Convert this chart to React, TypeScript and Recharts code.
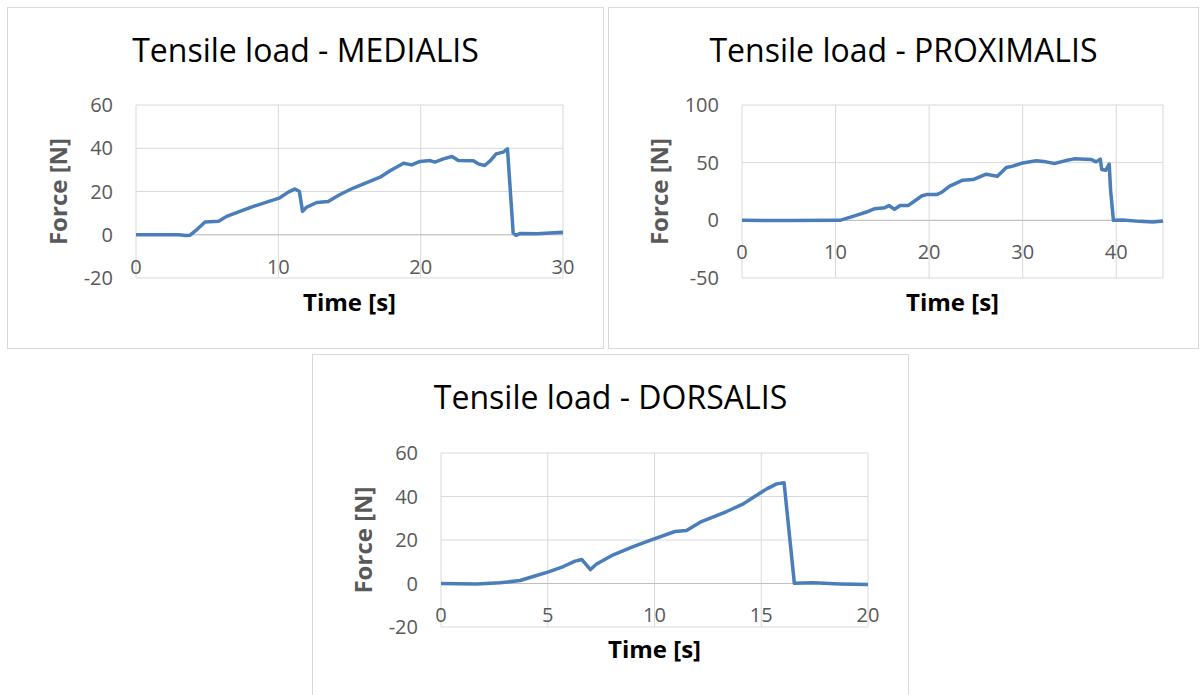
import { CartesianGrid, Line, LineChart, ReferenceLine, XAxis, YAxis } from "recharts";

// values
const medialisTime = [0, 1, 2, 3, 3.5, 3.8, 4.3, 4.85, 5.8, 6.37, 7.3, 8.25, 9.18, 10.05, 10.7, 11.17, 11.48, 11.7, 12.0, 12.7, 13.5, 14.3, 15.27, 17.15, 17.85, 18.8, 19.37, 19.96, 20.66, 21.0, 21.6, 22.2, 22.65, 23.7, 24.05, 24.5, 24.9, 25.3, 25.8, 26.1, 26.5, 26.7, 27.0, 28.2, 30];
const medialisForce = [0, 0, 0, 0, -0.3, -0.2, 2.5, 5.9, 6.2, 8.5, 10.8, 13.1, 15.1, 16.9, 19.7, 21.2, 20, 10.8, 12.8, 14.9, 15.4, 18.5, 21.6, 26.6, 29.6, 33.1, 32.3, 33.9, 34.3, 33.6, 35.1, 36.2, 34.3, 34.2, 32.8, 32.0, 34.3, 37.4, 38.2, 39.7, 0.8, -0.3, 0.6, 0.5, 1.1];

const proximalisTime = [0, 5, 10.46, 12.2, 13.3, 14.2, 15.26, 15.7, 16.3, 16.9, 17.75, 18.3, 19.2, 19.7, 20.8, 21.4, 22.2, 23.6, 24.7, 26.1, 27.3, 28.25, 28.95, 30.0, 31.45, 32.5, 33.4, 34.5, 35.5, 37.3, 37.85, 38.3, 38.45, 38.9, 39.25, 39.4, 39.7, 40.7, 42.5, 43.9, 45];
const proximalisForce = [0, -0.2, 0, 4.3, 7.2, 10.1, 11, 12.8, 9.6, 12.8, 12.8, 15.9, 21.1, 22.3, 22.3, 24.6, 29.6, 34.8, 35.4, 40, 38.3, 45.8, 47, 49.8, 51.6, 50.7, 49.3, 51.6, 53.3, 52.8, 50.7, 53, 44.1, 43.5, 48.7, 26, 0, 0.3, -0.9, -1.5, -0.6];

const dorsalisTime = [0, 1.67, 2.76, 3.7, 4.32, 5.0, 5.73, 6.28, 6.6, 7.0, 7.29, 8.07, 9.0, 9.79, 10.96, 11.5, 12.2, 13.38, 14.16, 14.6, 15.26, 15.72, 16.07, 16.55, 17.44, 18.69, 20];
const dorsalisForce = [0, -0.2, 0.3, 1.4, 3.2, 5.2, 7.8, 10.3, 11, 6.4, 9, 13.2, 17, 19.8, 23.9, 24.4, 28.5, 33.1, 36.6, 39.4, 43.5, 45.8, 46.3, 0.1, 0.3, -0.2, -0.5];

const medialisXTicks = [0, 10, 20, 30];
const medialisYTicks = [-20, 0, 20, 40, 60];
const proximalisXTicks = [0, 10, 20, 30, 40];
const proximalisYTicks = [-50, 0, 50, 100];
const dorsalisXTicks = [0, 5, 10, 15, 20];
const dorsalisYTicks = [-20, 0, 20, 40, 60];

const FONT = "'Open Sans', 'Noto Sans', sans-serif";
const LINE_COLOR = "#4a7ebb";
const GRID = "#d9d9d9";
const TICK = "#595959";

type Point = { t: number; f: number };

function toPoints(time: number[], force: number[]): Point[] {
  return time.map((t, i) => ({ t, f: force[i] }));
}

type PanelProps = {
  left: number;
  top: number;
  width: number;
  height: number;
  margin: { top: number; right: number };
  yAxisWidth: number;
  xAxisHeight: number;
  data: Point[];
  xDomain: [number, number];
  xTicks: number[];
  yDomain: [number, number];
  yTicks: number[];
  xLabelLift: number;
};

function Panel(p: PanelProps) {
  const renderXTick = (props: any) => (
    <text
      x={props.x}
      y={props.y - p.xLabelLift}
      textAnchor="middle"
      dy="0.35em"
      fill={TICK}
      fontSize={20}
      fontFamily={FONT}
    >
      {props.payload.value}
    </text>
  );
  const renderYTick = (props: any) => (
    <text
      x={props.x - 23}
      y={props.y}
      textAnchor="end"
      dy="0.35em"
      fill={TICK}
      fontSize={20}
      fontFamily={FONT}
    >
      {props.payload.value}
    </text>
  );

  return (
    <div style={{ position: "absolute", left: p.left, top: p.top }}>
      <LineChart
        width={p.width}
        height={p.height}
        data={p.data}
        margin={{ top: p.margin.top, right: p.margin.right, left: 0, bottom: 0 }}
      >
        <CartesianGrid stroke={GRID} />
        <XAxis
          type="number"
          dataKey="t"
          domain={p.xDomain}
          ticks={p.xTicks}
          axisLine={false}
          tickLine={false}
          tickSize={0}
          tickMargin={0}
          height={p.xAxisHeight}
          tick={renderXTick}
          interval={0}
        />
        <YAxis
          type="number"
          domain={p.yDomain}
          ticks={p.yTicks}
          axisLine={false}
          tickLine={false}
          tickSize={0}
          tickMargin={0}
          width={p.yAxisWidth}
          tick={renderYTick}
          interval={0}
        />
        <ReferenceLine y={0} stroke="#bfbfbf" />
        <Line
          type="linear"
          dataKey="f"
          stroke={LINE_COLOR}
          strokeWidth={3.5}
          strokeLinejoin="round"
          dot={false}
          activeDot={false}
          isAnimationActive={false}
        />
      </LineChart>
    </div>
  );
}

function Frame() {
  const title = { fontFamily: FONT, fontSize: 32, fill: "#000" };
  const xTitle = { fontFamily: FONT, fontSize: 24, fontWeight: 700, fill: "#000" };
  const yTitle = { fontFamily: FONT, fontSize: 24, fontWeight: 700, fill: TICK };
  return (
    <svg width={1200} height={695} style={{ position: "absolute", left: 0, top: 0 }}>
      <rect x={7.5} y={7.5} width={596} height={341} fill="#fff" stroke={GRID} />
      <rect x={608.5} y={7.5} width={590} height={341} fill="#fff" stroke={GRID} />
      <rect x={312.5} y={354.5} width={596} height={400} fill="#fff" stroke={GRID} />

      <text x={305.5} y={62} textAnchor="middle" {...title}>Tensile load - MEDIALIS</text>
      <text x={903.5} y={62} textAnchor="middle" {...title}>Tensile load - PROXIMALIS</text>
      <text x={610.5} y={409} textAnchor="middle" {...title}>Tensile load - DORSALIS</text>

      <text x={349.5} y={311} textAnchor="middle" {...xTitle}>Time [s]</text>
      <text x={952.5} y={311} textAnchor="middle" {...xTitle}>Time [s]</text>
      <text x={654.5} y={658} textAnchor="middle" {...xTitle}>Time [s]</text>

      <text transform="translate(67,191.5) rotate(-90)" textAnchor="middle" {...yTitle}>Force [N]</text>
      <text transform="translate(668,191.5) rotate(-90)" textAnchor="middle" {...yTitle}>Force [N]</text>
      <text transform="translate(372,540) rotate(-90)" textAnchor="middle" {...yTitle}>Force [N]</text>
    </svg>
  );
}

export default function App() {
  return (
    <div
      style={{
        position: "absolute",
        left: 0,
        top: 0,
        width: 1200,
        height: 695,
        overflow: "hidden",
        background: "#fff",
        fontFamily: FONT,
      }}
    >
      <Frame />
      <Panel
        left={7}
        top={7}
        width={597}
        height={342}
        margin={{ top: 98, right: 41 }}
        yAxisWidth={129}
        xAxisHeight={71}
        data={toPoints(medialisTime, medialisForce)}
        xDomain={[0, 30]}
        xTicks={medialisXTicks}
        yDomain={[-20, 60]}
        yTicks={medialisYTicks}
        xLabelLift={11}
      />
      <Panel
        left={608}
        top={7}
        width={591}
        height={342}
        margin={{ top: 98, right: 36 }}
        yAxisWidth={134}
        xAxisHeight={71}
        data={toPoints(proximalisTime, proximalisForce)}
        xDomain={[0, 45]}
        xTicks={proximalisXTicks}
        yDomain={[-50, 100]}
        yTicks={proximalisYTicks}
        xLabelLift={26}
      />
      <Panel
        left={312}
        top={354}
        width={597}
        height={341}
        margin={{ top: 99, right: 41 }}
        yAxisWidth={129}
        xAxisHeight={68}
        data={toPoints(dorsalisTime, dorsalisForce)}
        xDomain={[0, 20]}
        xTicks={dorsalisXTicks}
        yDomain={[-20, 60]}
        yTicks={dorsalisYTicks}
        xLabelLift={12}
      />
    </div>
  );
}
